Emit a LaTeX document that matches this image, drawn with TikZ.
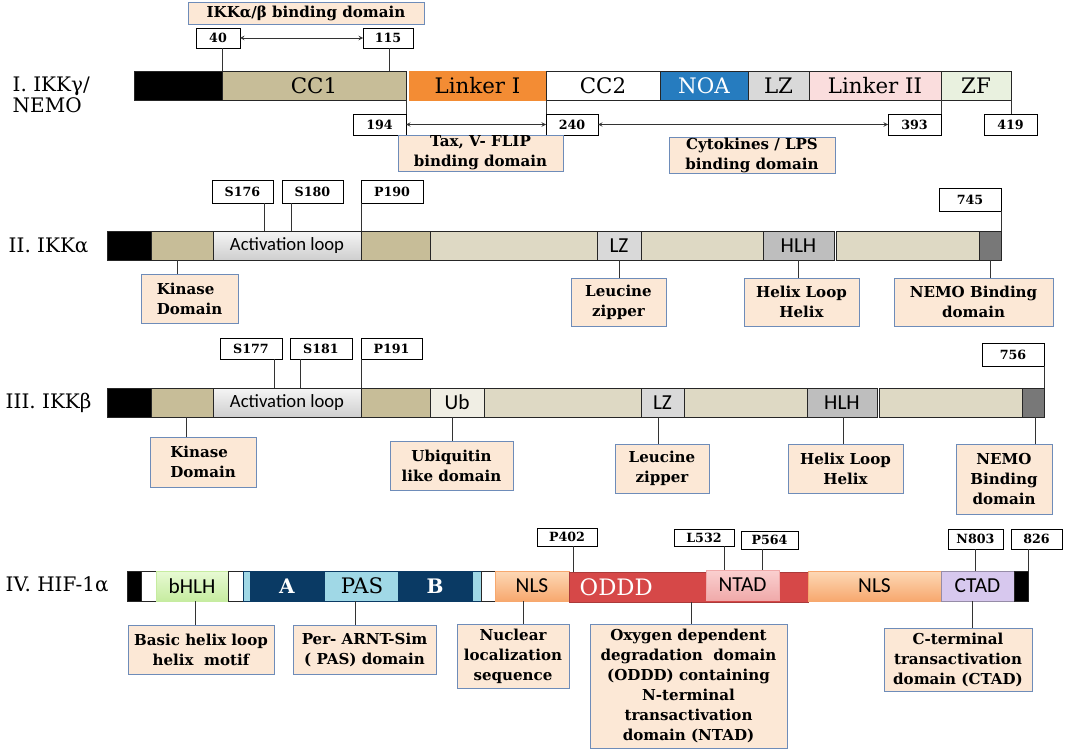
\documentclass[tikz,border=0pt]{standalone}
\usepackage{fontspec}
\setmainfont{DejaVu Serif}
\newfontfamily\calfont{Carlito}

\definecolor{tanD}{RGB}{199,189,152}
\definecolor{tanL}{RGB}{222,217,196}
\definecolor{linkA}{RGB}{243,140,52}
\definecolor{noaB}{RGB}{38,124,191}
\definecolor{lzG}{RGB}{217,217,217}
\definecolor{linkB}{RGB}{250,221,221}
\definecolor{zfG}{RGB}{233,241,223}
\definecolor{boxFill}{RGB}{252,232,214}
\definecolor{boxEdge}{RGB}{110,140,185}
\definecolor{hlhG}{RGB}{190,190,190}
\definecolor{endG}{RGB}{120,120,120}
\definecolor{ubW}{RGB}{240,238,228}
\definecolor{bhlhT}{RGB}{232,250,212}
\definecolor{bhlhB}{RGB}{198,236,160}
\definecolor{pasL}{RGB}{160,216,230}
\definecolor{pasN}{RGB}{10,58,100}
\definecolor{nlsT}{RGB}{253,216,182}
\definecolor{nlsB}{RGB}{247,168,110}
\definecolor{odddR}{RGB}{214,72,72}
\definecolor{ntadT}{RGB}{250,208,208}
\definecolor{ntadB}{RGB}{240,170,170}
\definecolor{ctadV}{RGB}{215,200,238}

\begin{document}
\begin{tikzpicture}[x=0.75pt, y=-0.75pt,
  xyspan/.style args={#1/#2/#3/#4}{minimum width={(#3-#1)*0.75pt}, minimum height={(#4-#2)*0.75pt},
    at={({(#1+#3)/2},{(#2+#4)/2})}},
  seg/.style={draw=black!85, line width=0.5pt, inner sep=0pt, outer sep=0pt},
  numbox/.style={draw, fill=white, line width=0.5pt, inner sep=0pt, outer sep=0pt,
    font=\bfseries\fontsize{9.5}{10}\selectfont},
  infobox/.style={draw=boxEdge, fill=boxFill, line width=0.7pt, inner sep=0pt, outer sep=0pt,
    align=center, font=\bfseries\fontsize{11.3}{15}\selectfont},
  big/.style={font=\fontsize{16}{18}\selectfont},
  cal/.style={font=\calfont\fontsize{16}{18}\selectfont},
  loop/.style={top color=gray!8, bottom color=gray!38, font=\calfont\fontsize{14}{16}\selectfont},
  rowlabel/.style={anchor=west, align=left, font=\fontsize{15}{16}\selectfont},
  tick/.style={line width=0.5pt, black!80}]  % domain maps of IKK and HIF-1a
\useasboundingbox (0,0) rectangle (1065,749);

% I. NEMO
\node[rowlabel] (lab1) at (8,95) {I. IKKγ/\\NEMO};
\node[seg, fill=black, xyspan=134/71/222/100] (blk1) {};
\node[seg, fill=tanD, big, xyspan=222/71/406/100] (cc1) {CC1};
\node[seg, draw=linkA, fill=linkA, big, xyspan=409/71/546/100] (link1) {Linker I};
\node[seg, fill=white, big, xyspan=546/71/660/100] (cc2) {CC2};
\node[seg, fill=noaB, text=white, big, xyspan=660/71/748/100] (noa) {NOA};
\node[seg, fill=lzG, big, xyspan=748/71/809/100] (lz1) {LZ};
\node[seg, fill=linkB, big, xyspan=809/71/941/100] (link2) {Linker II};
\node[seg, fill=zfG, big, xyspan=941/71/1011/100] (zf) {ZF};
\node[infobox, xyspan=188/2/424/24] (bind1) {IKKα/β binding domain};
\node[numbox, xyspan=196/28/240/48] (k40) {40};
\node[numbox, xyspan=363/28/413/48] (k115) {115};
\node[numbox, xyspan=353/114/406/135] (k194) {194};
\node[numbox, xyspan=546/114/598/135] (k240) {240};
\node[numbox, xyspan=888/114/941/135] (k393) {393};
\node[numbox, xyspan=984/114/1037/135] (k419) {419};
\node[infobox, xyspan=398/135/563/171] (tax) {Tax, V- FLIP\\binding domain};
\node[infobox, xyspan=669/137/835/173] (cyto) {Cytokines / LPS\\binding domain};
\draw[tick] (cc1.north west) -- (cc1.north west |- k40.south);
\draw[tick] (389,0 |- cc1.north) -- (389,0 |- k115.south);
\draw[tick, stealth-stealth] (k40.east) -- (k115.west);
\draw[tick] (cc1.south east) -- (k194.north east);
\draw[tick] (cc2.south west) -- (k240.north west);
\draw[tick] (link2.south east) -- (k393.north east);
\draw[tick] (zf.south east) -- (zf.south east |- k419.north);
\draw[tick, stealth-stealth] (k194.east) -- (k240.west);
\draw[tick, stealth-stealth] (k240.east) -- (k393.west);

% II. IKKa
\node[rowlabel] (lab2) at (4,246) {II. IKKα};
\node[seg, fill=black, xyspan=107/231/151/260] (blk2) {};
\node[seg, fill=tanD, xyspan=151/231/213/260] (kin2a) {};
\node[seg, loop, xyspan=213/231/361/260] (act2) {Activation loop};
\node[seg, fill=tanD, xyspan=361/231/430/260] (kin2b) {};
\node[seg, fill=tanL, xyspan=430/231/597/260] (mid2a) {};
\node[seg, fill=lzG, cal, xyspan=597/231/641/260] (lz2) {LZ};
\node[seg, fill=tanL, xyspan=641/231/763/260] (mid2b) {};
\node[seg, fill=hlhG, cal, xyspan=763/231/834/260] (hlh2) {HLH};
\node[seg, fill=tanL, xyspan=836/231/979/260] (mid2c) {};
\node[seg, fill=endG, xyspan=979/231/1001/260] (end2) {};
\node[numbox, xyspan=212/180/273/203] (s176) {S176};
\node[numbox, xyspan=282/180/343/203] (s180) {S180};
\node[numbox, xyspan=361/180/423/203] (p190) {P190};
\node[numbox, xyspan=939/188/1001/211] (n745) {745};
\draw[tick] (264,0 |- s176.south) -- (264,0 |- act2.north);
\draw[tick] (291,0 |- s180.south) -- (291,0 |- act2.north);
\draw[tick] (p190.south west) -- (act2.north east);
\draw[tick] (n745.south east) -- (end2.north east);
\node[infobox, align=left, xyspan=141/274/238/323] (kin2) {Kinase\\Domain};
\node[infobox, xyspan=571/278/666/326] (leu2) {Leucine\\zipper};
\node[infobox, xyspan=744/278/859/326] (hlx2) {Helix Loop\\Helix};
\node[infobox, xyspan=894/278/1053/326] (nemo2) {NEMO Binding\\domain};
\draw[tick] (177,0 |- kin2a.south) -- (177,0 |- kin2.north);
\draw[tick] (lz2.south) -- (lz2.south |- leu2.north);
\draw[tick] (hlh2.south) -- (hlh2.south |- hlx2.north);
\draw[tick] (end2.south) -- (end2.south |- nemo2.north);

% III. IKKb
\node[rowlabel] (lab3) at (1,403) {III. IKKβ};
\node[seg, fill=black, xyspan=107/388/151/417] (blk3) {};
\node[seg, fill=tanD, xyspan=151/388/213/417] (kin3a) {};
\node[seg, loop, xyspan=213/388/361/417] (act3) {Activation loop};
\node[seg, fill=tanD, xyspan=361/388/430/417] (kin3b) {};
\node[seg, fill=ubW, cal, xyspan=430/388/484/417] (ub3) {Ub};
\node[seg, fill=tanL, xyspan=484/388/641/417] (mid3a) {};
\node[seg, fill=lzG, cal, xyspan=641/388/684/417] (lz3) {LZ};
\node[seg, fill=tanL, xyspan=684/388/807/417] (mid3b) {};
\node[seg, fill=hlhG, cal, xyspan=807/388/877/417] (hlh3) {HLH};
\node[seg, fill=tanL, xyspan=879/388/1022/417] (mid3c) {};
\node[seg, fill=endG, xyspan=1022/388/1044/417] (end3) {};
\node[numbox, xyspan=220/338/282/359] (s177) {S177};
\node[numbox, xyspan=290/338/352/359] (s181) {S181};
\node[numbox, xyspan=361/338/422/359] (p191) {P191};
\node[numbox, xyspan=982/343/1044/366] (n756) {756};
\draw[tick] (274,0 |- s177.south) -- (274,0 |- act3.north);
\draw[tick] (300,0 |- s181.south) -- (300,0 |- act3.north);
\draw[tick] (p191.south west) -- (act3.north east);
\draw[tick] (n756.south east) -- (end3.north east);
\node[infobox, align=left, xyspan=150/437/256/487] (kin3) {Kinase\\Domain};
\node[infobox, xyspan=390/441/513/490] (ubi3) {Ubiquitin\\like domain};
\node[infobox, xyspan=615/444/709/493] (leu3) {Leucine\\zipper};
\node[infobox, xyspan=788/444/903/493] (hlx3) {Helix Loop\\Helix};
\node[infobox, xyspan=956/444/1052/514] (nemo3) {NEMO\\Binding\\domain};
\draw[tick] (186,0 |- kin3a.south) -- (186,0 |- kin3.north);
\draw[tick] (452,0 |- ub3.south) -- (452,0 |- ubi3.north);
\draw[tick] (658,0 |- lz3.south) -- (658,0 |- leu3.north);
\draw[tick] (843,0 |- hlh3.south) -- (843,0 |- hlx3.north);
\draw[tick] (1035,0 |- end3.south) -- (1035,0 |- nemo3.north);

% IV. HIF-1a
\node[rowlabel] (lab4) at (1,584) {IV. HIF-1α};
\node[seg, fill=black, xyspan=127/571/141/601] (blk4) {};
\node[seg, fill=white, xyspan=141/571/156/601] (wh4a) {};
\node[seg, draw=bhlhB, top color=bhlhT, bottom color=bhlhB, cal, xyspan=156/571/228/601] (bhlh) {bHLH};
\node[seg, fill=white, xyspan=228/571/243/601] (wh4b) {};
\node[seg, draw=pasN, fill=pasL, big, xyspan=243/571/481/601] (pas) {PAS};
\node[seg, draw=pasN, fill=pasN, text=white, font=\bfseries\fontsize{15}{17}\selectfont,
  xyspan=250/571/324/601] (pasA) {A};
\node[seg, draw=pasN, fill=pasN, text=white, font=\bfseries\fontsize{15}{17}\selectfont,
  xyspan=398/571/472/601] (pasB) {B};
\node[seg, fill=white, xyspan=481/571/495/601] (wh4c) {};
\node[seg, draw=nlsB, top color=nlsT, bottom color=nlsB, cal, xyspan=495/571/569/601] (nls4a) {NLS};
\node[seg, draw=odddR!80!black, fill=odddR, xyspan=569/572/808/602] (oddd) {};
\node[anchor=west, text=white, font=\fontsize{17}{19}\selectfont] (odddtxt) at (575,587) {ODDD};
\node[seg, draw=ntadB, top color=ntadT, bottom color=ntadB, cal, xyspan=706/570/779/600] (ntad) {NTAD};
\node[seg, draw=nlsB, top color=nlsT, bottom color=nlsB, cal, xyspan=808/571/941/601] (nls4b) {NLS};
\node[seg, draw=ctadV!70!black, fill=ctadV, cal, xyspan=941/571/1014/601] (ctad) {CTAD};
\node[seg, fill=black, xyspan=1014/571/1028/601] (blk4b) {};
\node[numbox, xyspan=537/528/597/546] (p402) {P402};
\node[numbox, xyspan=674/529/734/546] (l532) {L532};
\node[numbox, xyspan=741/531/798/549] (p564) {P564};
\node[numbox, xyspan=948/529/1003/549] (n803) {N803};
\node[numbox, xyspan=1011/529/1062/549] (n826) {826};
\draw[tick] (573,0 |- p402.south) -- (573,0 |- oddd.north);
\draw[tick] (724,0 |- l532.south) -- (724,0 |- ntad.north);
\draw[tick] (762,0 |- p564.south) -- (762,0 |- ntad.north);
\draw[tick] (n803.south) -- (n803.south |- ctad.north);
\draw[tick] (blk4b.north east) -- (blk4b.north east |- n826.south);
\node[infobox, xyspan=128/625/274/674] (bas4) {Basic helix loop\\helix~~motif};
\node[infobox, xyspan=293/625/436/674] (per4) {Per- ARNT-Sim\\( PAS) domain};
\node[infobox, xyspan=457/624/569/688] (nuc4) {Nuclear\\localization\\sequence};
\node[infobox, xyspan=590/624/787/748] (odd4) {Oxygen dependent\\degradation~~domain\\(ODDD) containing\\N-terminal\\transactivation\\domain (NTAD)};
\node[infobox, xyspan=884/628/1032/691] (cta4) {C-terminal\\transactivation\\domain (CTAD)};
\draw[tick] (195,0 |- bhlh.south) -- (195,0 |- bas4.north);
\draw[tick] (355,0 |- pas.south) -- (355,0 |- per4.north);
\draw[tick] (523,0 |- nls4a.south) -- (523,0 |- nuc4.north);
\draw[tick] (691,0 |- oddd.south) -- (691,0 |- odd4.north);
\draw[tick] (972,0 |- ctad.south) -- (972,0 |- cta4.north);
\end{tikzpicture}
\end{document}
